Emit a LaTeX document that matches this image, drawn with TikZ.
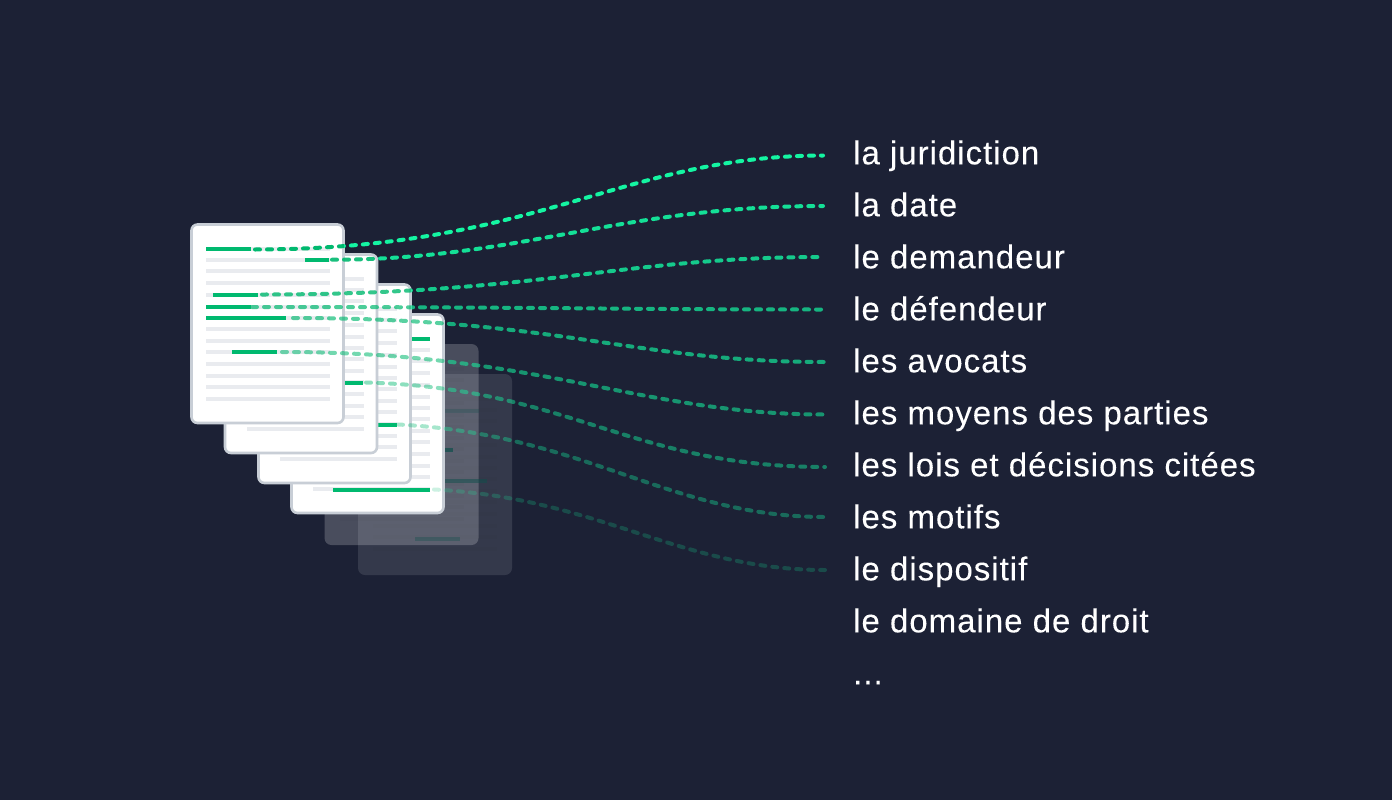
\documentclass[tikz,border=0pt]{standalone}
\usepackage{fontspec}
\setmainfont[LetterSpace=3.0,FakeBold=0.12]{Liberation Sans}
\definecolor{pagebg}{HTML}{1C2135}
\definecolor{pageedge}{HTML}{C8CED6}
\definecolor{barfill}{HTML}{E9EBEF}
\definecolor{barmark}{HTML}{00B96F}
\definecolor{tracelit}{HTML}{14F5A2}
\definecolor{ghostmark}{HTML}{0F4F4C}
\tikzset{
	docpage/.style={draw=pageedge, line width=2.6pt, fill=white, rounded corners=6pt},
	ghostpage/.style={fill=white, rounded corners=7pt},
	tracedash/.style={line width=4pt, line cap=round, dash pattern=on 5pt off 7pt},
	fieldlabel/.style={anchor=base west, inner sep=0pt, text=white, font=\fontsize{33}{33}\selectfont}
}
% outline of the four stacked pages
\newcommand{\stackoutline}{(191,224) -- (344,224) -- (344,254) -- (378,254) -- (378,284) -- (411,284) -- (411,314) -- (444,314) -- (444,514) -- (291,514) -- (291,484) -- (258,484) -- (258,454) -- (224,454) -- (224,423) -- (191,423) -- cycle}
% rows of one page
\newcommand{\rowbars}[1]{
	\foreach \rowy in {249,260,271,283,295,307,318,329,341,352,364,376,387,399}
		\fill[#1] (206,\rowy-2) rectangle (330,\rowy+2);
}
\newcommand{\pagerows}{
	\rowbars{barfill}
	\fill[white] (205,397) rectangle (213,401);
}
\newcommand{\markbar}[3]{\fill[barmark] (#1,#3-2) rectangle (#2,#3+2);}
\newcommand{\ghostbar}[4]{\fill[ghostmark, opacity=#4] (#1,#3-2) rectangle (#2,#3+2);}

\begin{document}
\begin{tikzpicture}[x=1pt, y=-1pt]
	\fill[pagebg] (0,0) rectangle (1392,800);
	\useasboundingbox (0,0) rectangle (1392,800);

	% ghost pages
	\begin{scope}[shift={(167,150)}]
		\fill[ghostpage, opacity=0.11] (191,224) rectangle (345,425);
		\begin{scope}[opacity=0.015]\rowbars{black}\end{scope}
	\end{scope}
	\begin{scope}[shift={(133.5,120)}]
		\fill[ghostpage, opacity=0.20] (191,224) rectangle (345,425);
		\begin{scope}[opacity=0.02]\rowbars{black}\end{scope}
	\end{scope}
	\ghostbar{445}{479}{411}{0.25}
	\ghostbar{445}{453}{450}{0.7}
	\ghostbar{445}{487}{481}{0.5}
	\ghostbar{415}{460}{538.5}{0.35}

	% real pages
	\begin{scope}[shift={(100,90)}]
		\draw[docpage] (191.5,224.5) rectangle (343.5,423);
		\pagerows
	\end{scope}
	\markbar{333}{430}{489.5}
	\markbar{411}{430}{339}
	\begin{scope}[shift={(67,60)}]
		\draw[docpage] (191.5,224.5) rectangle (343.5,423);
		\pagerows
	\end{scope}
	\markbar{378}{397}{424.5}
	\begin{scope}[shift={(33.5,30)}]
		\draw[docpage] (191.5,224.5) rectangle (343.5,423);
		\pagerows
	\end{scope}
	\markbar{344}{363}{382.5}
	\draw[docpage] (191.5,224.5) rectangle (343.5,423);
	\rowbars{barfill}
	\markbar{206}{251}{249}
	\markbar{305}{329}{260}
	\markbar{213}{258}{295}
	\markbar{206}{251}{307}
	\markbar{206}{286}{318}
	\markbar{232}{277}{352}

	% labels
	\foreach \fname/\ftext [count=\rowno from 0] in {juridiction/la juridiction, date/la date, demandeur/le demandeur, defendeur/le défendeur, avocats/les avocats, moyens/les moyens des parties, lois/les lois et décisions citées, motifs/les motifs, dispositif/le dispositif, domaine/le domaine de droit}
		\node[fieldlabel] (\fname) at (853,164.3+52*\rowno) {\ftext};
	\node[fieldlabel] (suite) at (853,684.3) {...};

	% traces
	\foreach \fname/\sx/\sy/\ax/\ay/\bx/\by/\ex/\ey/\tracealpha in {
		juridiction/255/249.5/540/249/620/156/823/155.5/1,
		date/332/259.7/520/259.7/620/206/823/206/0.9,
		demandeur/262/294.5/542/294.5/621/257/823/257/0.8,
		defendeur/252/307/540/307/620/309.5/823/309.5/0.7,
		avocats/293/318/559/318/633/362/825/362/0.65,
		moyens/282/352/540/352/640/414.5/825/414.5/0.55,
		lois/366/382.5/570/388/630/467/825/467/0.45,
		motifs/398/424.5/585/434/670/517/825/517/0.35,
		dispositif/434/489.5/600/498/680/570/825/570/0.2}{
		\coordinate (from\fname) at (\sx,\sy);
		\coordinate (to\fname) at (\ex,\ey);
		\begin{scope}[even odd rule]
			\clip (0,0) rectangle (1392,800) \stackoutline;
			\draw[tracedash, tracelit, opacity=\tracealpha] (from\fname) .. controls (\ax,\ay) and (\bx,\by) .. (to\fname);
		\end{scope}
		\begin{scope}
			\clip \stackoutline;
			\draw[tracedash, barmark, opacity=\tracealpha] (from\fname) .. controls (\ax,\ay) and (\bx,\by) .. (to\fname);
		\end{scope}
	}
\end{tikzpicture}
\end{document}
